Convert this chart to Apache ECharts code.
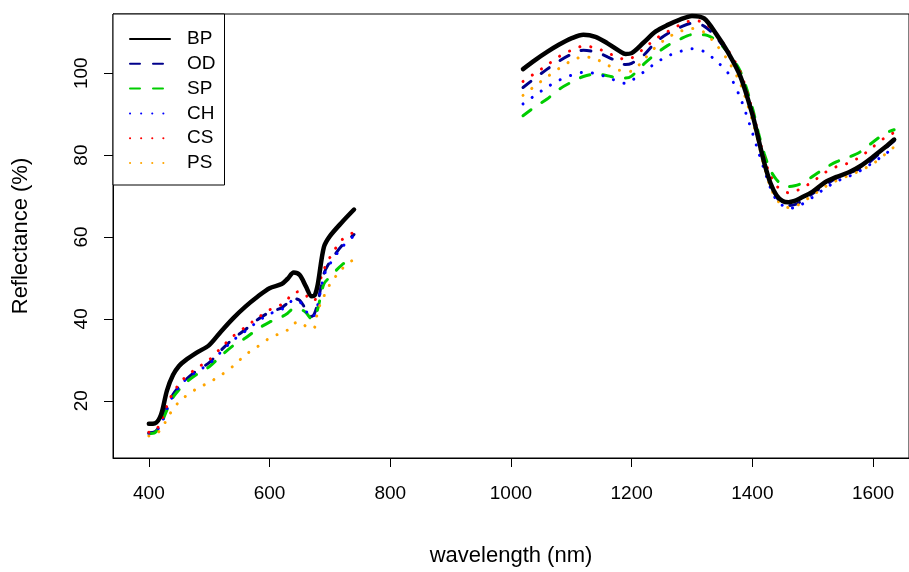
<!DOCTYPE html>
<html>
<head>
<meta charset="utf-8">
<script src="https://cdn.jsdelivr.net/npm/echarts@6/dist/echarts.min.js"></script>
<style>html,body{margin:0;padding:0;background:#fff}#c{width:909px;height:572px}</style>
</head>
<body>
<div id="c"></div>
<script>
// wavelength grids (nm)
const wl1 = [400,410,420,430,440,450,460,480,500,520,540,560,580,600,620,630,640,650,660,670,675,680,690,700,720,740];
const wl2 = [1020,1040,1060,1080,1100,1120,1140,1160,1180,1190,1200,1220,1240,1260,1280,1300,1320,1340,1360,1380,1400,1410,1420,1430,1440,1450,1460,1470,1480,1500,1520,1540,1560,1580,1600,1620,1635];

// reflectance (%) per series, visible region
const bp1 = [14.4,14.5,16.5,22.5,26.3,28.5,29.8,31.8,33.6,37.0,40.2,43.0,45.4,47.5,48.5,49.8,51.3,50.7,48.0,45.5,45.8,48.5,57.5,60.2,63.6,66.7];
const od1 = [12.2,12.4,14.5,18.5,21.5,23.5,25.0,27.4,29.3,32.4,35.2,37.4,39.8,41.6,42.7,43.9,45.0,44.5,42.4,40.6,41.5,44.0,51.0,53.9,57.9,60.6];
const sp1 = [12.0,12.2,14.2,17.8,20.8,22.7,24.3,26.5,28.3,31.0,33.5,35.3,37.5,39.2,40.5,41.4,42.5,42.4,41.6,40.0,40.3,42.5,48.5,50.2,53.2,55.0];
const ch1 = [12.0,12.3,14.2,18.0,21.2,23.3,25.0,27.2,29.0,32.0,34.8,37.0,39.3,41.2,42.3,43.5,44.6,44.2,42.0,40.3,41.0,43.5,50.5,53.4,57.5,60.3];
const cs1 = [12.3,12.6,14.8,18.8,22.0,24.0,25.7,28.0,30.0,33.0,35.8,38.0,40.2,42.2,43.5,44.8,46.5,46.6,45.8,44.4,44.5,47.5,52.0,55.0,59.3,61.2];
const ps1 = [11.4,11.7,13.0,15.5,18.0,19.7,21.0,23.0,24.5,26.3,28.5,31.2,33.2,35.3,36.6,37.3,38.8,39.3,38.2,37.6,38.0,42.0,45.5,48.4,52.2,54.6];

// reflectance (%) per series, SWIR region
const bp2 = [101.0,103.2,105.2,107.0,108.5,109.4,108.9,107.3,105.4,104.7,104.9,107.5,110.2,111.8,113.1,114.0,113.4,109.6,105.0,99.3,90.0,84.0,78.0,73.2,70.2,68.8,68.5,68.8,69.5,71.1,73.3,74.7,75.8,77.4,79.6,81.9,83.8];
const od2 = [96.5,98.8,101.0,103.0,104.6,105.6,105.2,104.0,102.6,102.1,102.4,104.4,107.6,109.7,111.2,112.2,111.5,108.8,104.8,99.3,90.0,84.0,78.0,73.0,69.8,68.3,67.7,67.9,68.6,70.6,72.6,74.4,75.6,76.8,79.0,81.6,83.5];
const sp2 = [89.6,91.8,93.7,96.1,97.8,99.2,99.8,99.4,98.8,98.8,99.3,102.2,104.7,106.8,108.3,109.4,109.4,108.0,105.0,100.5,91.6,85.5,80.2,76.3,74.0,72.7,72.3,72.5,73.0,74.8,76.8,78.4,79.5,80.9,83.2,85.3,86.2];
const ch2 = [92.5,94.6,96.6,98.3,99.5,100.2,99.9,99.0,97.8,97.5,98.2,100.3,102.5,104.2,105.3,106.0,105.3,103.0,100.0,94.0,85.5,80.8,76.3,72.0,69.0,67.7,67.0,67.2,67.8,69.7,71.8,73.6,74.8,76.3,78.2,80.2,82.0];
const cs2 = [98.0,100.0,102.0,104.1,105.6,106.6,106.2,105.0,103.7,103.4,103.7,106.0,108.4,110.2,111.8,112.8,112.4,109.5,105.5,100.3,91.0,85.0,79.2,75.0,72.5,71.4,70.8,71.1,71.8,73.5,75.7,77.2,78.1,79.7,82.0,84.3,85.5];
const ps2 = [94.6,96.9,99.1,101.2,103.0,104.0,103.5,102.0,100.7,100.4,100.5,103.3,106.4,108.7,110.2,110.9,110.0,107.0,103.0,97.5,88.5,83.0,77.0,72.2,69.3,67.7,67.2,67.4,68.2,70.2,72.2,73.8,75.0,76.3,77.9,80.2,82.0];

const names = ['BP','OD','SP','CH','CS','PS'];
const xTicks = [400,600,800,1000,1200,1400,1600];
const yTicks = [20,40,60,80,100];

const seg1 = {BP:bp1, OD:od1, SP:sp1, CH:ch1, CS:cs1, PS:ps1};
const seg2 = {BP:bp2, OD:od2, SP:sp2, CH:ch2, CS:cs2, PS:ps2};

const styles = {
  BP:{color:'#000000', width:4.5, type:'solid', cap:'round'},
  OD:{color:'#00008B', width:3, type:[10,13], cap:'round'},
  SP:{color:'#00CD00', width:3, type:[10,13], cap:'round'},
  CH:{color:'#0000FF', width:3, type:[0.1,11], cap:'round'},
  CS:{color:'#FF0000', width:3, type:[0.1,11], cap:'round'},
  PS:{color:'#FFA500', width:3, type:[0.1,11], cap:'round'}
};

function build(n){
  const d = wl1.map((w,i)=>[w, seg1[n][i]]);
  d.push([880, null]);
  wl2.forEach((w,i)=>d.push([w, seg2[n][i]]));
  return d;
}

const FONT = 'Liberation Sans, Arial, sans-serif';
const chart = echarts.init(document.getElementById('c'), null, {renderer:'canvas'});
chart.setOption({
  animation:false,
  backgroundColor:'#fff',
  grid:{left:113, top:14, right:-3, height:450, show:true, borderColor:'#000', borderWidth:1, backgroundColor:'transparent'},
  xAxis:{
    type:'value', min:340.6, max:1659.6,
    name:'wavelength (nm)', nameLocation:'middle', nameGap:87,
    nameTextStyle:{fontFamily:FONT, fontSize:22, color:'#000'},
    axisLine:{show:true, onZero:false, lineStyle:{color:'#000', width:1}},
    axisTick:{show:true, length:9, customValues:xTicks, lineStyle:{color:'#000'}},
    axisLabel:{customValues:xTicks, margin:26, fontFamily:FONT, fontSize:19, color:'#000', formatter:v=>String(v)},
    splitLine:{show:false}
  },
  yAxis:{
    type:'value', min:6.02, max:114.46,
    name:'Reflectance (%)', nameLocation:'middle', nameGap:81, nameRotate:90,
    nameTextStyle:{fontFamily:FONT, fontSize:22, color:'#000'},
    axisLine:{show:true, onZero:false, lineStyle:{color:'#000', width:1}},
    axisTick:{show:true, length:9, customValues:yTicks, lineStyle:{color:'#000'}},
    axisLabel:{customValues:yTicks, rotate:90, margin:22, fontFamily:FONT, fontSize:19, color:'#000', formatter:v=>String(v)},
    splitLine:{show:false}
  },
  legend:{
    data:names, orient:'vertical', left:113, top:14,
    itemWidth:40, itemHeight:14, itemGap:5.8,
    padding:[15.5,9,12.5,16],
    backgroundColor:'#fff', borderColor:'#000', borderWidth:1,
    itemStyle:{opacity:0, borderWidth:0},
    textStyle:{fontFamily:FONT, fontSize:19, color:'#000', lineHeight:14, padding:[0,0,0,12]}
  },
  series:names.map(n=>({
    name:n, type:'line', data:build(n), symbol:'none', showSymbol:false,
    smooth:0.3, connectNulls:false, clip:true, z: n==='BP'?3:2,
    itemStyle:{color:styles[n].color},
    lineStyle:{color:styles[n].color, width:styles[n].width, type:styles[n].type, cap:styles[n].cap}
  }))
});
</script>
</body>
</html>
